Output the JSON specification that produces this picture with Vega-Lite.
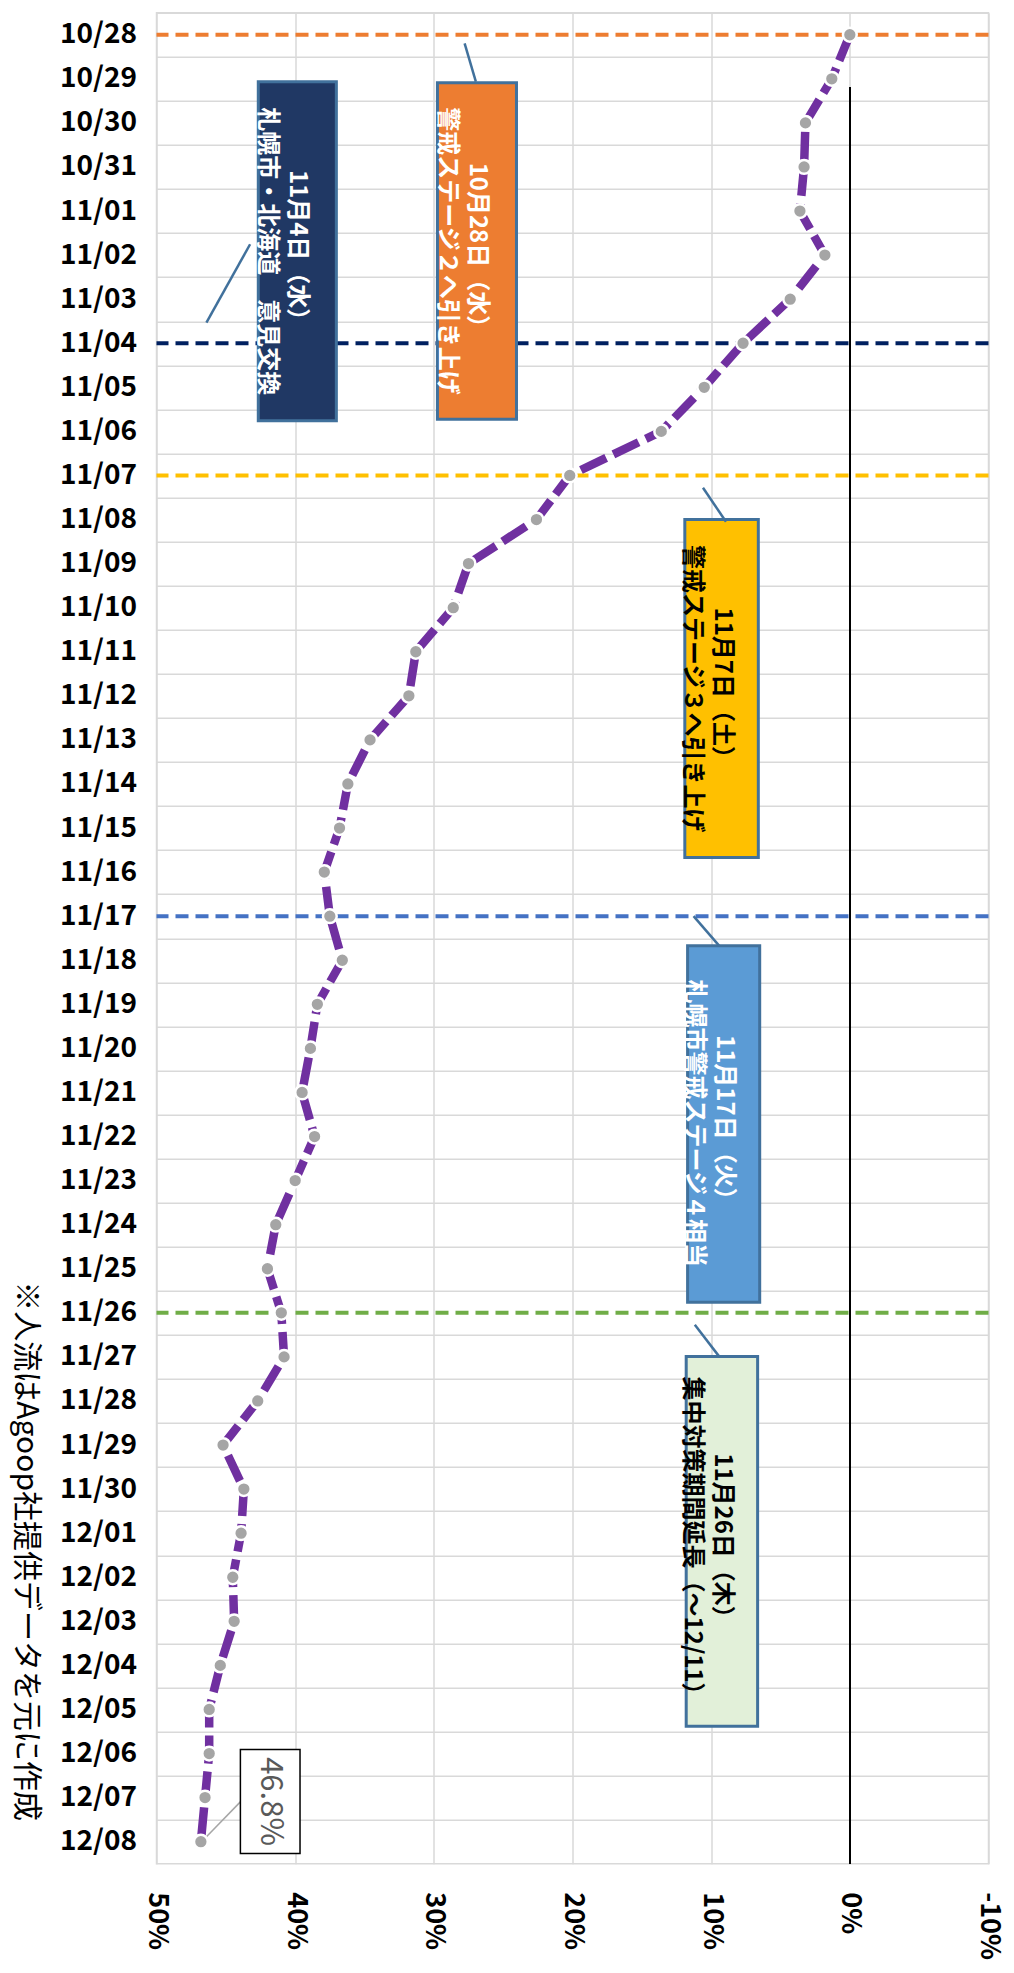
{
  "$schema": "https://vega.github.io/schema/vega-lite/v6.json",
  "width": 832,
  "height": 1851,
  "autosize": {"type": "none"},
  "padding": {"left": 156.5, "top": 12.7, "right": 25.5, "bottom": 109.3},
  "background": "white",
  "config": {"font": "Noto Sans CJK JP", "view": {"stroke": "#D9D9D9", "strokeWidth": 1.5}},
  "datasets": {
    "series": [
      {"i": 0, "date": "10/28", "v": 0},
      {"i": 1, "date": "10/29", "v": 1.3},
      {"i": 2, "date": "10/30", "v": 3.2},
      {"i": 3, "date": "10/31", "v": 3.3},
      {"i": 4, "date": "11/01", "v": 3.6},
      {"i": 5, "date": "11/02", "v": 1.8},
      {"i": 6, "date": "11/03", "v": 4.3},
      {"i": 7, "date": "11/04", "v": 7.7},
      {"i": 8, "date": "11/05", "v": 10.5},
      {"i": 9, "date": "11/06", "v": 13.6},
      {"i": 10, "date": "11/07", "v": 20.2},
      {"i": 11, "date": "11/08", "v": 22.6},
      {"i": 12, "date": "11/09", "v": 27.5},
      {"i": 13, "date": "11/10", "v": 28.6},
      {"i": 14, "date": "11/11", "v": 31.3},
      {"i": 15, "date": "11/12", "v": 31.8},
      {"i": 16, "date": "11/13", "v": 34.6},
      {"i": 17, "date": "11/14", "v": 36.2},
      {"i": 18, "date": "11/15", "v": 36.8},
      {"i": 19, "date": "11/16", "v": 37.9},
      {"i": 20, "date": "11/17", "v": 37.5},
      {"i": 21, "date": "11/18", "v": 36.6},
      {"i": 22, "date": "11/19", "v": 38.4},
      {"i": 23, "date": "11/20", "v": 38.9},
      {"i": 24, "date": "11/21", "v": 39.5},
      {"i": 25, "date": "11/22", "v": 38.6},
      {"i": 26, "date": "11/23", "v": 40.0},
      {"i": 27, "date": "11/24", "v": 41.4},
      {"i": 28, "date": "11/25", "v": 42.0},
      {"i": 29, "date": "11/26", "v": 41.0},
      {"i": 30, "date": "11/27", "v": 40.8},
      {"i": 31, "date": "11/28", "v": 42.7},
      {"i": 32, "date": "11/29", "v": 45.2},
      {"i": 33, "date": "11/30", "v": 43.7},
      {"i": 34, "date": "12/01", "v": 43.9},
      {"i": 35, "date": "12/02", "v": 44.5},
      {"i": 36, "date": "12/03", "v": 44.4},
      {"i": 37, "date": "12/04", "v": 45.4},
      {"i": 38, "date": "12/05", "v": 46.2},
      {"i": 39, "date": "12/06", "v": 46.2},
      {"i": 40, "date": "12/07", "v": 46.5},
      {"i": 41, "date": "12/08", "v": 46.8}
    ],
    "events": [
      {"event": "stage2", "i": 0},
      {"event": "meeting", "i": 7},
      {"event": "stage3", "i": 10},
      {"event": "stage4", "i": 20},
      {"event": "extend", "i": 29}
    ],
    "boxes": [
      {"event": "meeting", "x1": 42.66, "x2": 37.03, "y1": 1.065, "y2": 8.756, "cx": 39.85, "cy": 4.91, "lx1": 43.25, "ly1": 4.754, "lx2": 46.4, "ly2": 6.533, "label": "11月4日（水）\n札幌市・北海道　意見交換"},
      {"event": "stage2", "x1": 29.74, "x2": 24.04, "y1": 1.088, "y2": 8.724, "cx": 26.89, "cy": 4.906, "lx1": 27.78, "ly1": 0.194, "lx2": 26.97, "ly2": 1.065, "label": "10月28日（水）\n警戒ステージ２へ引き上げ"},
      {"event": "stage3", "x1": 11.9, "x2": 6.6, "y1": 11.0, "y2": 18.67, "cx": 9.25, "cy": 14.84, "lx1": 10.59, "ly1": 10.28, "lx2": 8.93, "ly2": 11.05, "label": "11月7日（土）\n警戒ステージ３へ引き上げ"},
      {"event": "stage4", "x1": 11.7, "x2": 6.5, "y1": 20.67, "y2": 28.76, "cx": 9.1, "cy": 24.7, "lx1": 11.27, "ly1": 20.0, "lx2": 9.4, "ly2": 20.68, "label": "11月17日（火）\n札幌市警戒ステージ４相当"},
      {"event": "extend", "x1": 11.8, "x2": 6.65, "y1": 29.99, "y2": 38.38, "cx": 9.22, "cy": 34.19, "lx1": 11.18, "ly1": 29.27, "lx2": 9.4, "ly2": 30.0, "label": "11月26日（木）\n集中対策期間延長（～12/11）"}
    ],
    "last": [
      {"x1": 43.95, "x2": 39.65, "y1": 38.91, "y2": 41.27, "cx": 41.8, "cy": 40.09, "lx1": 43.9, "ly1": 40.08, "lx2": 46.59, "ly2": 40.95, "label": "46.8%"}
    ]
  },
  "layer": [
    {
      "data": {"name": "series"},
      "mark": {"type": "line", "color": "#7030A0", "strokeWidth": 0, "opacity": 0},
      "encoding": {
        "x": {"field": "v", "type": "quantitative", "scale": {"domain": [-10, 50], "reverse": true, "nice": false, "zero": false},
          "axis": {"values": [-10, 0, 10, 20, 30, 40, 50], "labelExpr": "datum.value + '%'", "labelAngle": 90, "labelAlign": "left", "labelBaseline": "middle", "labelPadding": 28, "labelFontSize": 27, "labelFontWeight": "bold", "labelColor": "#000000", "labelFont": "Noto Sans CJK JP", "labelFlush": false, "labelOverlap": false, "ticks": false, "domain": false, "grid": true, "gridColor": "#D9D9D9", "gridWidth": 1.5, "title": null}},
        "y": {"field": "i", "type": "quantitative", "scale": {"domain": [-0.5, 41.5], "reverse": true, "nice": false, "zero": false},
          "axis": {"values": [-0.5, 0.5, 1.5, 2.5, 3.5, 4.5, 5.5, 6.5, 7.5, 8.5, 9.5, 10.5, 11.5, 12.5, 13.5, 14.5, 15.5, 16.5, 17.5, 18.5, 19.5, 20.5, 21.5, 22.5, 23.5, 24.5, 25.5, 26.5, 27.5, 28.5, 29.5, 30.5, 31.5, 32.5, 33.5, 34.5, 35.5, 36.5, 37.5, 38.5, 39.5, 40.5],
            "labelExpr": "timeFormat(datetime(2020, 9, 28.5 + datum.value), '%m/%d')", "labelOffset": 22.04, "labelPadding": 20, "labelFontSize": 28, "labelFontWeight": "bold", "labelColor": "#000000", "labelFont": "Noto Sans CJK JP", "labelOverlap": false, "labelBound": false, "labelFlush": false,
            "ticks": false, "domain": false, "grid": true, "gridColor": "#D9D9D9", "gridWidth": 1.5,
            "title": "※人流はAgoop社提供データを元に作成", "titleAngle": 90, "titleX": -131.5, "titleY": 1538, "titleAlign": "center", "titleBaseline": "middle", "titleFontSize": 30, "titleFontWeight": "normal", "titleFont": "Noto Sans CJK JP", "titleColor": "#000000"}},
        "order": {"field": "i", "type": "quantitative"}
      }
    },
    {
      "data": {"name": "events"},
      "mark": {"type": "rule", "strokeDash": [13, 7], "strokeWidth": 4},
      "encoding": {
        "y": {"field": "i", "type": "quantitative"},
        "stroke": {"field": "event", "type": "nominal", "legend": null, "scale": {"domain": ["stage2", "meeting", "stage3", "stage4", "extend"], "range": ["#ED7D31", "#002060", "#FFC000", "#4472C4", "#70AD47"]}}
      }
    },
    {
      "data": {"name": "series"},
      "mark": {"type": "rule", "color": "#000000", "strokeWidth": 1.5},
      "encoding": {
        "x": {"datum": 0, "type": "quantitative"},
        "y": {"datum": 1.2, "type": "quantitative"},
        "y2": {"datum": 41.5}
      }
    },
    {
      "data": {"name": "boxes"},
      "mark": {"type": "rect", "stroke": "#41719C", "strokeWidth": 3},
      "encoding": {
        "x": {"field": "x1", "type": "quantitative"},
        "x2": {"field": "x2"},
        "y": {"field": "y1", "type": "quantitative"},
        "y2": {"field": "y2"},
        "fill": {"field": "event", "type": "nominal", "legend": null, "scale": {"domain": ["stage2", "meeting", "stage3", "stage4", "extend"], "range": ["#ED7D31", "#203864", "#FFC000", "#5B9BD5", "#E2F0D9"]}}
      }
    },
    {
      "data": {"name": "boxes"},
      "mark": {"type": "rule", "color": "#41719C", "strokeWidth": 2.5},
      "encoding": {
        "x": {"field": "lx1", "type": "quantitative"},
        "x2": {"field": "lx2"},
        "y": {"field": "ly1", "type": "quantitative"},
        "y2": {"field": "ly2"}
      }
    },
    {
      "data": {"name": "boxes"},
      "mark": {"type": "text", "angle": 90, "lineBreak": "\n", "fontSize": 24, "fontWeight": "bold", "lineHeight": 30, "align": "center", "baseline": "middle", "font": "Noto Sans CJK JP"},
      "encoding": {
        "x": {"field": "cx", "type": "quantitative"},
        "y": {"field": "cy", "type": "quantitative"},
        "text": {"field": "label", "type": "nominal"},
        "color": {"field": "event", "type": "nominal", "legend": null, "scale": {"domain": ["stage2", "meeting", "stage3", "stage4", "extend"], "range": ["#FFFFFF", "#FFFFFF", "#000000", "#FFFFFF", "#000000"]}}
      }
    },
    {
      "data": {"name": "last"},
      "mark": {"type": "rule", "color": "#A6A6A6", "strokeWidth": 1.5},
      "encoding": {
        "x": {"field": "lx1", "type": "quantitative"},
        "x2": {"field": "lx2"},
        "y": {"field": "ly1", "type": "quantitative"},
        "y2": {"field": "ly2"}
      }
    },
    {
      "data": {"name": "last"},
      "mark": {"type": "rect", "fill": "#FFFFFF", "stroke": "#000000", "strokeWidth": 1.5},
      "encoding": {
        "x": {"field": "x1", "type": "quantitative"},
        "x2": {"field": "x2"},
        "y": {"field": "y1", "type": "quantitative"},
        "y2": {"field": "y2"}
      }
    },
    {
      "data": {"name": "last"},
      "mark": {"type": "text", "angle": 90, "fontSize": 31, "color": "#595959", "align": "center", "baseline": "middle", "font": "Noto Sans CJK JP"},
      "encoding": {
        "x": {"field": "cx", "type": "quantitative"},
        "y": {"field": "cy", "type": "quantitative"},
        "text": {"field": "label", "type": "nominal"}
      }
    },
    {
      "data": {"name": "series"},
      "mark": {"type": "line", "color": "#7030A0", "strokeWidth": 8.5, "strokeDash": [28, 8]},
      "encoding": {
        "x": {"field": "v", "type": "quantitative"},
        "y": {"field": "i", "type": "quantitative"},
        "order": {"field": "i", "type": "quantitative"}
      }
    },
    {
      "data": {"name": "series"},
      "mark": {"type": "point", "filled": true, "fill": "#A5A5A5", "stroke": "#FFFFFF", "strokeWidth": 2.5, "size": 190, "opacity": 1, "fillOpacity": 1, "strokeOpacity": 1},
      "encoding": {
        "x": {"field": "v", "type": "quantitative"},
        "y": {"field": "i", "type": "quantitative"}
      }
    }
  ]
}
